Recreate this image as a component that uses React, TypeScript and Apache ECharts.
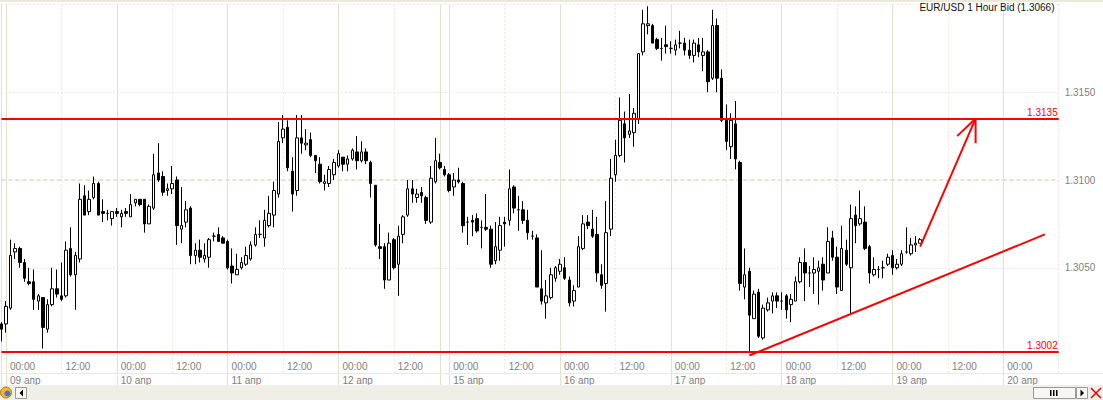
import React, { useEffect, useRef } from "react";
import * as echarts from "echarts";

// ---- timeline (hourly candles, weekend skipped) ----
const dayNames = ["08 апр", "09 апр", "10 апр", "11 апр", "12 апр", "14 апр", "15 апр", "16 апр", "17 апр", "18 апр", "19 апр", "20 апр"];
const dayFirstHour = [23, 0, 0, 0, 0, 22, 0, 0, 0, 0, 0, 0];
const dayLastHour = [23, 23, 23, 23, 21, 23, 23, 23, 23, 23, 23, 12];

// ---- EUR/USD 1 hour bid, OHLC ----
const opens = [
  1.3018,1.3018,1.3027,1.3059,1.3061,1.3053,1.3042,1.3042,1.3031,1.3033,
  1.3015,1.3029,1.3038,1.3034,1.3034,1.3061,1.3046,1.3055,1.3091,1.3082,
  1.3090,1.3098,1.3082,1.3081,1.3078,1.3082,1.3079,1.3082,1.3079,1.3087,
  1.3089,1.3089,1.3075,1.3084,1.3104,1.3102,1.3094,1.3095,1.3100,1.3072,
  1.3076,1.3084,1.3057,1.3060,1.3055,1.3056,1.3068,1.3069,1.3067,1.3065,
  1.3051,1.3046,1.3050,1.3052,1.3055,1.3063,1.3069,1.3067,1.3074,1.3080,
  1.3092,1.3124,1.3130,1.3105,1.3094,1.3124,1.3120,1.3123,1.3114,1.3109,
  1.3098,1.3098,1.3103,1.3108,1.3113,1.3109,1.3112,1.3116,1.3111,1.3116,
  1.3110,1.3097,1.3062,1.3062,1.3043,1.3066,1.3052,1.3069,1.3080,1.3095,
  1.3090,1.3093,1.3090,1.3076,1.3099,1.3110,1.3106,1.3103,1.3096,1.3100,
  1.3098,1.3076,1.3077,1.3078,1.3073,1.3073,1.3072,1.3054,1.3060,1.3076,
  1.3077,1.3096,1.3083,1.3083,1.3077,1.3068,1.3067,1.3038,1.3030,1.3033,
  1.3044,1.3048,1.3050,1.3043,1.3031,1.3039,1.3061,1.3076,1.3072,1.3069,
  1.3046,1.3041,1.3072,1.3103,1.3114,1.3132,1.3126,1.3127,1.3135,1.3173,
  1.3188,1.3188,1.3180,1.3175,1.3177,1.3175,1.3174,1.3178,1.3178,1.3174,
  1.3171,1.3177,1.3171,1.3173,1.3158,1.3188,1.3158,1.3134,1.3119,1.3132,
  1.3110,1.3039,1.3048,1.3021,1.3036,1.3010,1.3026,1.3031,1.3034,1.3031,
  1.3034,1.3029,1.3031,1.3042,1.3053,1.3047,1.3047,1.3048,1.3052,1.3047,
  1.3067,1.3056,1.3037,1.3060,1.3050,1.3080,1.3075,1.3076,1.3062,1.3046,
  1.3049,1.3050,1.3052,1.3057,1.3050,1.3052,1.3059,1.3058,1.3063,1.3064,
];
const closes = [
  1.3015,1.3028,1.3057,1.3061,1.3053,1.3044,1.3041,1.3032,1.3034,1.3016,
  1.3029,1.3038,1.3035,1.3032,1.3060,1.3046,1.3057,1.3089,1.3080,1.3089,
  1.3098,1.3080,1.3081,1.3081,1.3082,1.3081,1.3081,1.3081,1.3086,1.3089,
  1.3086,1.3075,1.3085,1.3103,1.3100,1.3093,1.3095,1.3098,1.3074,1.3074,
  1.3083,1.3057,1.3060,1.3056,1.3057,1.3066,1.3068,1.3065,1.3064,1.3050,
  1.3047,1.3049,1.3053,1.3057,1.3063,1.3069,1.3069,1.3077,1.3081,1.3094,
  1.3122,1.3129,1.3107,1.3092,1.3124,1.3121,1.3121,1.3114,1.3111,1.3099,
  1.3099,1.3106,1.3110,1.3115,1.3109,1.3112,1.3117,1.3111,1.3116,1.3111,
  1.3098,1.3063,1.3061,1.3043,1.3064,1.3050,1.3068,1.3079,1.3095,1.3092,
  1.3092,1.3091,1.3077,1.3101,1.3111,1.3107,1.3103,1.3094,1.3100,1.3099,
  1.3074,1.3076,1.3076,1.3071,1.3073,1.3072,1.3052,1.3062,1.3074,1.3075,
  1.3095,1.3084,1.3083,1.3077,1.3070,1.3068,1.3039,1.3031,1.3034,1.3046,
  1.3050,1.3052,1.3044,1.3030,1.3037,1.3062,1.3075,1.3074,1.3068,1.3047,
  1.3040,1.3070,1.3101,1.3114,1.3134,1.3124,1.3128,1.3138,1.3172,1.3189,
  1.3189,1.3178,1.3175,1.3175,1.3176,1.3175,1.3177,1.3178,1.3174,1.3171,
  1.3178,1.3173,1.3173,1.3156,1.3188,1.3158,1.3134,1.3122,1.3134,1.3112,
  1.3041,1.3046,1.3023,1.3035,1.3011,1.3027,1.3030,1.3034,1.3031,1.3031,
  1.3026,1.3032,1.3042,1.3053,1.3047,1.3047,1.3049,1.3050,1.3043,1.3065,
  1.3056,1.3039,1.3061,1.3052,1.3078,1.3074,1.3078,1.3061,1.3047,1.3049,
  1.3049,1.3050,1.3056,1.3050,1.3052,1.3058,1.3059,1.3063,1.3064,1.3066,
];
const lows = [
  1.3008,1.3013,1.3026,1.3055,1.3050,1.3042,1.3040,1.3026,1.3026,1.3004,
  1.3013,1.3028,1.3033,1.3031,1.3033,1.3045,1.3026,1.3053,1.3080,1.3080,
  1.3089,1.3080,1.3076,1.3077,1.3074,1.3079,1.3073,1.3079,1.3079,1.3085,
  1.3085,1.3070,1.3075,1.3083,1.3099,1.3091,1.3091,1.3092,1.3063,1.3064,
  1.3073,1.3052,1.3052,1.3053,1.3053,1.3050,1.3065,1.3065,1.3064,1.3049,
  1.3041,1.3046,1.3049,1.3051,1.3054,1.3062,1.3067,1.3062,1.3073,1.3073,
  1.3090,1.3121,1.3105,1.3082,1.3091,1.3115,1.3117,1.3113,1.3104,1.3098,
  1.3094,1.3096,1.3100,1.3107,1.3105,1.3105,1.3111,1.3106,1.3110,1.3109,
  1.3090,1.3062,1.3055,1.3038,1.3043,1.3049,1.3034,1.3064,1.3079,1.3087,
  1.3087,1.3087,1.3075,1.3075,1.3098,1.3106,1.3102,1.3093,1.3091,1.3098,
  1.3070,1.3063,1.3068,1.3070,1.3061,1.3071,1.3050,1.3052,1.3054,1.3062,
  1.3074,1.3081,1.3071,1.3075,1.3066,1.3066,1.3039,1.3029,1.3021,1.3032,
  1.3042,1.3046,1.3043,1.3028,1.3028,1.3039,1.3060,1.3072,1.3067,1.3042,
  1.3038,1.3025,1.3068,1.3099,1.3113,1.3110,1.3124,1.3119,1.3132,1.3171,
  1.3183,1.3178,1.3174,1.3168,1.3172,1.3172,1.3171,1.3175,1.3171,1.3169,
  1.3167,1.3170,1.3162,1.3150,1.3157,1.3150,1.3133,1.3117,1.3112,1.3106,
  1.3037,1.3032,1.3002,1.3021,1.3010,1.3009,1.3025,1.3024,1.3027,1.3026,
  1.3021,1.3019,1.3031,1.3041,1.3031,1.3039,1.3035,1.3029,1.3037,1.3047,
  1.3054,1.3035,1.3037,1.3051,1.3024,1.3064,1.3074,1.3060,1.3041,1.3045,
  1.3044,1.3044,1.3051,1.3046,1.3049,1.3051,1.3058,1.3057,1.3059,1.3064,
];
const highs = [
  1.3019,1.3031,1.3066,1.3064,1.3062,1.3055,1.3050,1.3049,1.3035,1.3033,
  1.3032,1.3050,1.3049,1.3053,1.3065,1.3073,1.3059,1.3098,1.3097,1.3094,
  1.3102,1.3099,1.3089,1.3083,1.3082,1.3084,1.3083,1.3084,1.3092,1.3089,
  1.3089,1.3089,1.3086,1.3115,1.3121,1.3105,1.3098,1.3108,1.3102,1.3096,
  1.3088,1.3085,1.3064,1.3066,1.3064,1.3067,1.3070,1.3073,1.3068,1.3066,
  1.3061,1.3058,1.3056,1.3062,1.3065,1.3073,1.3077,1.3083,1.3091,1.3099,
  1.3133,1.3137,1.3134,1.3113,1.3137,1.3137,1.3129,1.3127,1.3114,1.3113,
  1.3103,1.3108,1.3112,1.3117,1.3113,1.3114,1.3118,1.3125,1.3122,1.3118,
  1.3111,1.3097,1.3075,1.3064,1.3070,1.3067,1.3074,1.3080,1.3100,1.3100,
  1.3095,1.3096,1.3091,1.3108,1.3124,1.3115,1.3108,1.3104,1.3104,1.3107,
  1.3099,1.3079,1.3080,1.3081,1.3077,1.3092,1.3074,1.3076,1.3079,1.3079,
  1.3106,1.3097,1.3091,1.3088,1.3083,1.3071,1.3069,1.3060,1.3043,1.3050,
  1.3051,1.3055,1.3056,1.3045,1.3040,1.3068,1.3080,1.3080,1.3083,1.3079,
  1.3052,1.3088,1.3112,1.3123,1.3147,1.3139,1.3149,1.3141,1.3172,1.3197,
  1.3199,1.3189,1.3181,1.3181,1.3188,1.3179,1.3180,1.3185,1.3181,1.3180,
  1.3180,1.3181,1.3181,1.3174,1.3197,1.3192,1.3163,1.3143,1.3138,1.3145,
  1.3111,1.3061,1.3050,1.3037,1.3038,1.3029,1.3033,1.3036,1.3036,1.3036,
  1.3035,1.3035,1.3045,1.3056,1.3061,1.3051,1.3056,1.3054,1.3056,1.3073,
  1.3071,1.3062,1.3074,1.3066,1.3086,1.3085,1.3094,1.3085,1.3063,1.3056,
  1.3051,1.3054,1.3058,1.3060,1.3055,1.3060,1.3073,1.3067,1.3068,1.3067,
];

// ---- annotations ----
const levelPrices = [1.3135, 1.3002];
const majorGridPrice = 1.31;
const trendLine: [string, number][] = [["17 апр 17:00", 1.3], ["20 апр 09:00", 1.3069]];
const arrowShaft: [string, number][] = [["19 апр 06:00", 1.3062], ["19 апр 18:00", 1.3135]];
const arrowHead: [string, number][] = [["19 апр 14:00", 1.3125], ["19 апр 18:00", 1.3135], ["19 апр 18:00", 1.3121]];
const titleText = "EUR/USD 1 Hour Bid (1.3066)";

const FONT = "'Liberation Sans', Arial, sans-serif";
const GRID_SOLID = "#E4E0CB";
const GRID_DOT = "#DAD6C0";
const LABEL = "#808080";

function buildTimeline() {
  const cats: string[] = [];
  const hours: number[] = [];
  const dayStart: boolean[] = [];
  dayNames.forEach((d, k) => {
    for (let h = dayFirstHour[k]; h <= dayLastHour[k]; h++) {
      cats.push(`${d} ${String(h).padStart(2, "0")}:00`);
      hours.push(h);
      dayStart.push(h === dayFirstHour[k]);
    }
  });
  return { cats, hours, dayStart };
}

export default function App() {
  const ref = useRef<HTMLDivElement>(null);
  useEffect(() => {
    document.body.style.margin = "0";
    if (!ref.current) return;
    const chart = echarts.init(ref.current, undefined, { renderer: "svg" });
    const { cats, hours, dayStart } = buildTimeline();
    const last = cats.length - 1;
    const candles = opens.map((o, i) => [o, closes[i], lows[i], highs[i]]);

    const isDay = (i: number) => dayStart[i];
    const isNoon = (i: number) => hours[i] === 12;
    const hourLabel = (i: number) => (hours[i] === 0 || hours[i] === 12) && i !== last;
    const dateLabel = (i: number) => hours[i] === 0 && i !== last;

    const redLine = { color: "#FF0000", width: 2 };

    chart.setOption({
      animation: false,
      backgroundColor: "#FFFFFF",
      title: {
        text: titleText,
        right: 48.5,
        top: 2,
        padding: 0,
        textStyle: { fontSize: 10, fontWeight: "normal", color: "#111", fontFamily: FONT },
      },
      grid: { left: 1.38, right: 44.3, top: 4.5, bottom: 44.5, containLabel: false },
      xAxis: [
        {
          type: "category",
          data: cats,
          boundaryGap: false,
          position: "bottom",
          axisLine: { show: false },
          axisTick: { show: true, interval: isDay, length: 30, lineStyle: { color: GRID_SOLID, width: 1 } },
          axisLabel: {
            interval: hourLabel,
            formatter: (v: string) => v.slice(-5),
            align: "left",
            padding: [0, 0, 0, 4],
            margin: 6,
            color: LABEL,
            fontSize: 10,
            fontFamily: FONT,
          },
          splitLine: { show: true, interval: isDay, lineStyle: { color: GRID_SOLID, width: 1 } },
        },
        {
          type: "category",
          data: cats,
          boundaryGap: false,
          position: "bottom",
          axisLine: { show: false },
          axisTick: { show: true, interval: isNoon, length: 18, lineStyle: { color: GRID_DOT, width: 1, type: [1, 3] } },
          axisLabel: {
            interval: dateLabel,
            formatter: (v: string) => v.slice(0, -6),
            align: "left",
            padding: [0, 0, 0, 4],
            margin: 19.5,
            color: LABEL,
            fontSize: 10,
            fontFamily: FONT,
          },
          splitLine: { show: true, interval: isNoon, lineStyle: { color: GRID_DOT, width: 1, type: [1, 3] } },
        },
      ],
      yAxis: {
        type: "value",
        position: "right",
        min: 1.3,
        max: 1.32,
        interval: 0.005,
        axisLine: { show: false },
        axisTick: { show: false },
        axisLabel: {
          formatter: (v: number) => v.toFixed(4),
          showMinLabel: false,
          showMaxLabel: false,
          margin: 6,
          color: LABEL,
          fontSize: 10,
          fontFamily: FONT,
        },
        splitLine: { show: true, lineStyle: { color: GRID_DOT, width: 1, type: [1, 3] } },
      },
      series: [
        {
          type: "line",
          name: "grid",
          data: [],
          z: 1,
          silent: true,
          markLine: {
            silent: true,
            z: 1,
            symbol: "none",
            precision: 4,
            label: { show: false },
            lineStyle: { color: "#E6E2CC", width: 2, type: [4, 3] },
            data: [{ yAxis: majorGridPrice }],
          },
        },
        {
          type: "candlestick",
          name: "EUR/USD",
          data: candles,
          barWidth: 3,
          z: 2,
          itemStyle: {
            color: "#FFFFFF",
            color0: "#000000",
            borderColor: "#000000",
            borderColor0: "#000000",
            borderColorDoji: "#000000",
            borderWidth: 1,
          },
        },
        {
          type: "line",
          name: "trend",
          data: trendLine,
          z: 4,
          symbol: "none",
          silent: true,
          lineStyle: redLine,
          markLine: {
            silent: true,
            symbol: "none",
            precision: 4,
            lineStyle: { color: "#FF0000", width: 2, type: "solid" },
            label: {
              show: true,
              position: "insideEndTop",
              distance: [1, 1],
              color: "#FF0000",
              fontSize: 10,
              fontFamily: FONT,
              formatter: (p: any) => Number(p.value).toFixed(4),
            },
            data: levelPrices.map((v) => ({ yAxis: v })),
          },
        },
        { type: "line", name: "arrow", data: arrowShaft, z: 4, symbol: "none", silent: true, lineStyle: redLine },
        { type: "line", name: "arrowHead", data: arrowHead, z: 4, symbol: "none", silent: true, lineStyle: redLine },
      ],
      graphic: [
        { type: "rect", silent: true, shape: { x: 0, y: 0, width: 1103, height: 2 }, style: { fill: "#ECE9D8" }, z: 10 },
        { type: "rect", silent: true, shape: { x: 0, y: 373, width: 1103, height: 1 }, style: { fill: "#ECE9D8" }, z: 10 },
        { type: "rect", silent: true, shape: { x: 0, y: 385, width: 1103, height: 15 }, style: { fill: "#EFEEE7" }, z: 10 },
        { type: "circle", silent: true, shape: { cx: 6, cy: 392.5, r: 5.5 }, style: { fill: "#F2B33D", stroke: "#B8780F", lineWidth: 1 }, z: 11 },
        { type: "circle", silent: true, shape: { cx: 7.5, cy: 393.5, r: 3 }, style: { fill: "#3E78C8" }, z: 12 },
        { type: "rect", silent: true, shape: { x: 15.5, y: 387.5, width: 11, height: 11 }, style: { fill: "#F7F6F2", stroke: "#9A9A9A", lineWidth: 1 }, z: 11 },
        { type: "polygon", silent: true, shape: { points: [[23, 389.5], [23, 396.5], [19.5, 393]] }, style: { fill: "#000" }, z: 12 },
        { type: "rect", silent: true, shape: { x: 1033.5, y: 387.5, width: 42, height: 11 }, style: { fill: "#F7F6F2", stroke: "#9A9A9A", lineWidth: 1 }, z: 11 },
        { type: "rect", silent: true, shape: { x: 1050, y: 390, width: 1.5, height: 6 }, style: { fill: "#000" }, z: 12 },
        { type: "rect", silent: true, shape: { x: 1053, y: 390, width: 1.5, height: 6 }, style: { fill: "#000" }, z: 12 },
        { type: "rect", silent: true, shape: { x: 1056, y: 390, width: 1.5, height: 6 }, style: { fill: "#000" }, z: 12 },
        { type: "rect", silent: true, shape: { x: 1076.5, y: 387.5, width: 11, height: 11 }, style: { fill: "#F7F6F2", stroke: "#9A9A9A", lineWidth: 1 }, z: 11 },
        { type: "polygon", silent: true, shape: { points: [[1080.5, 389.5], [1080.5, 396.5], [1084, 393]] }, style: { fill: "#000" }, z: 12 },
        { type: "line", silent: true, shape: { x1: 1091, y1: 388, x2: 1101, y2: 398 }, style: { stroke: "#E00000", lineWidth: 1.5 }, z: 12 },
        { type: "line", silent: true, shape: { x1: 1101, y1: 388, x2: 1091, y2: 398 }, style: { stroke: "#E00000", lineWidth: 1.5 }, z: 12 },
      ],
    });
    return () => chart.dispose();
  }, []);
  return <div ref={ref} style={{ width: 1103, height: 400 }} />;
}
